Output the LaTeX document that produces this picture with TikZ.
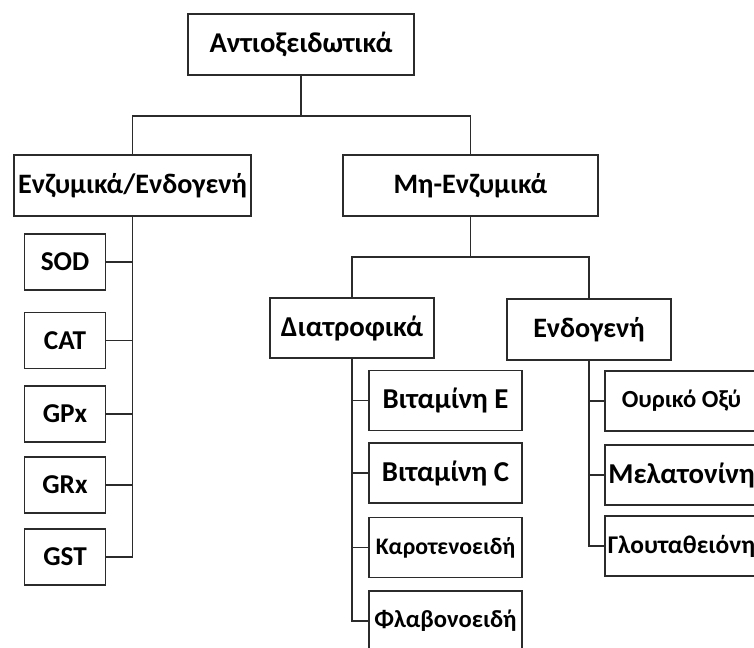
\documentclass[tikz,border=0pt]{standalone}
\usepackage{fontspec}
\setmainfont{Carlito}
\usetikzlibrary{positioning}
\definecolor{boxline}{HTML}{2B2B2B}
\tikzset{
  fsz/.style={font=\bfseries\fontsize{#1}{#1}\selectfont},
  lvl/.style={draw=boxline, line width=0.9pt, inner sep=0pt, align=center, minimum height=1.22cm, fsz=16},
  enzbox/.style={draw=boxline, line width=0.9pt, inner sep=0pt, minimum width=1.62cm, minimum height=1.12cm, fsz=15.5},
  leaf/.style={draw=boxline, line width=0.9pt, inner sep=0pt, minimum width=3.06cm, minimum height=1.2cm, fsz=14},
  conn/.style={draw=boxline, line width=0.8pt}
}
\begin{document}
\begin{tikzpicture}[x=0.02cm, y=-0.02cm]
  \clip (0,0) rectangle (754,648);
  \fill[white] (0,0) rectangle (754,648);

  \node[lvl, minimum width=4.52cm, fsz=16.3] (top) at (301,44.5) {Αντιοξειδωτικά};
  \node[lvl, minimum width=4.74cm] (enz) at (132.5,185.5) {Ενζυμικά/Ενδογενή};
  \node[lvl, minimum width=5.10cm] (mh) at (470.5,185.5) {Μη-Ενζυμικά};
  \node[lvl, minimum width=3.28cm, minimum height=1.2cm, fsz=16.4] (diat) at (352,328) {Διατροφικά};
  \node[lvl, minimum width=3.28cm] (endo) at (589,329.5) {Ενδογενή};

  \node[enzbox] (sod) at (65,262) {SOD};
  \node[enzbox] (cat) at (65,340.5) {CAT};
  \node[enzbox] (gpx) at (65,414) {GPx};
  \node[enzbox] (grx) at (65,485) {GRx};
  \node[enzbox] (gst) at (65,557) {GST};

  \node[leaf, fsz=16.4] (vite) at (445.5,400.5) {Βιταμίνη Ε};
  \node[leaf, fsz=16.4] (vitc) at (445.5,473) {Βιταμίνη C};
  \node[leaf, fsz=13.5] (carot) at (445.5,547.5) {Καροτενοειδή};
  \node[leaf] (flav) at (445.5,621) {Φλαβονοειδή};

  \node[leaf] (ouric) at (681.5,401) {Ουρικό Οξύ};
  \node[leaf, fsz=16.4] (melat) at (681.5,475) {Μελατονίνη};
  \node[leaf, fsz=14.5] (glut) at (681.5,546) {Γλουταθειόνη};

  \coordinate (j1) at (301,116);
  \coordinate (j2) at (470.5,257);
  \draw[conn] (top.south) -- (j1);
  \draw[conn] (enz.north) |- (j1) -| (mh.north);
  \draw[conn] (mh.south) -- (j2);
  \draw[conn] (diat.north) |- (j2) -| (endo.north);

  \draw[conn] (enz.south) |- (gst.east);
  \foreach \n in {sod,cat,gpx,grx}
    \draw[conn] (\n.east) -- (\n.east -| enz.south);

  \draw[conn] (diat.south) |- (flav.west);
  \foreach \n in {vite,vitc,carot}
    \draw[conn] (\n.west) -- (\n.west -| diat.south);

  \draw[conn] (endo.south) |- (glut.west);
  \foreach \n in {ouric,melat}
    \draw[conn] (\n.west) -- (\n.west -| endo.south);
\end{tikzpicture}
\end{document}
